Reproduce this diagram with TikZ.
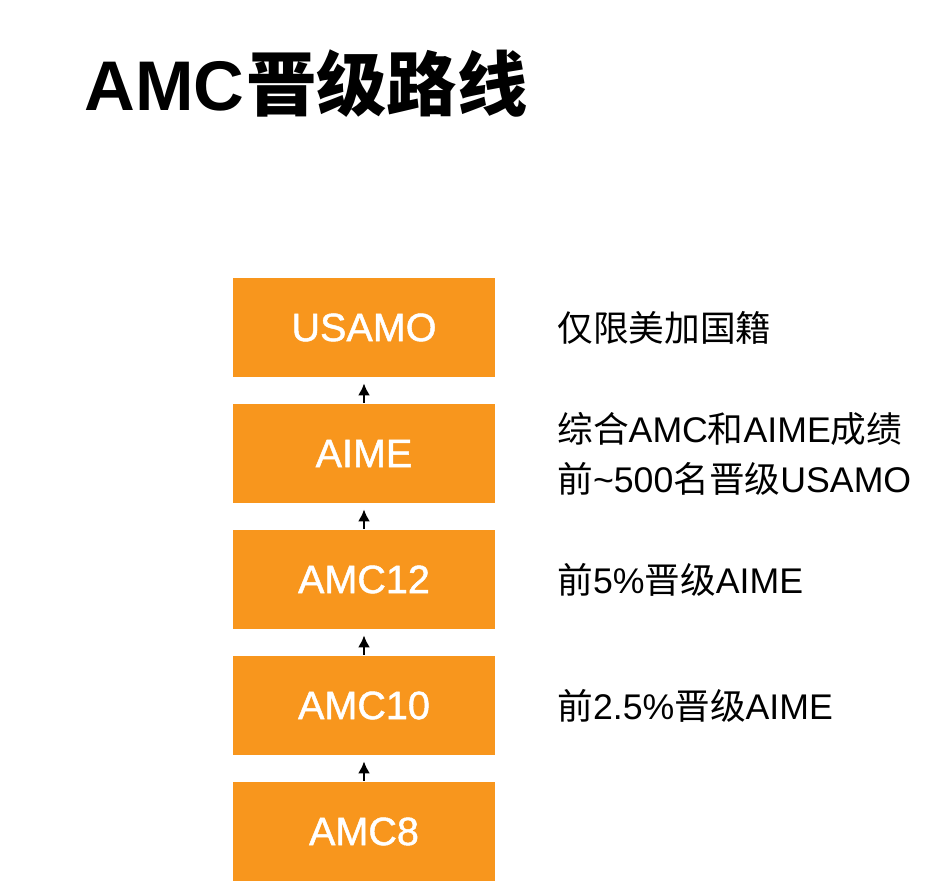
\documentclass[tikz,border=0pt]{standalone}
\usepackage{fontspec}
\setmainfont{Liberation Sans}
\newfontfamily\cjk{Noto Sans CJK SC}
\newfontfamily\boxfont{Liberation Sans}[FakeBold=1.2]
\usetikzlibrary{arrows.meta}
\definecolor{amcorange}{RGB}{248,150,29}

\begin{document}
\begin{tikzpicture}[
  levelbox/.style={rectangle, fill=amcorange, text=white, minimum width=5.24cm, minimum height=1.98cm, inner sep=0pt, font=\boxfont\fontsize{22.5}{27}\selectfont},
  note/.style={anchor=west, inner sep=0pt, align=left, font=\fontsize{20.3}{28.5}\selectfont},
  up/.style={-{Latex[length=0.24cm,width=0.24cm]}, line width=1.3pt, shorten <=0.02cm, shorten >=0.12cm}]
\useasboundingbox (0,0) rectangle (19,17.72);
 \node [anchor=base west, inner sep=0pt, font=\bfseries\fontsize{40}{44}\selectfont] (title) at (1.68,15.5) {AMC\hspace{1pt}{\cjk 晋级路线}};
 \node [levelbox] (usamo) at (7.28,11.17) {USAMO};
 \node [levelbox] (aime) at (7.28,8.65) {AIME};
 \node [levelbox] (amc12) at (7.28,6.13) {AMC12};
 \node [levelbox] (amc10) at (7.28,3.61) {AMC10};
 \node [levelbox] (amc8) at (7.28,1.09) {AMC8};
\draw [up] (amc8) -- (amc10);
\draw [up] (amc10) -- (amc12);
\draw [up] (amc12) -- (aime);
\draw [up] (aime) -- (usamo);
 \node [note] (usamonote) at (11.14,11.17) {{\cjk 仅限美加国籍}};
 \node [note] (aimenote) at (11.14,8.65) {{\cjk 综合}AMC{\cjk 和}AIME{\cjk 成绩}\\{\cjk 前}\textasciitilde500{\cjk 名晋级}USAMO};
 \node [note] (amctwelvenote) at (11.14,6.13) {{\cjk 前}5\%{\cjk 晋级}AIME};
 \node [note] (amctennote) at (11.14,3.61) {{\cjk 前}2.5\%{\cjk 晋级}AIME};
\end{tikzpicture}
\end{document}
